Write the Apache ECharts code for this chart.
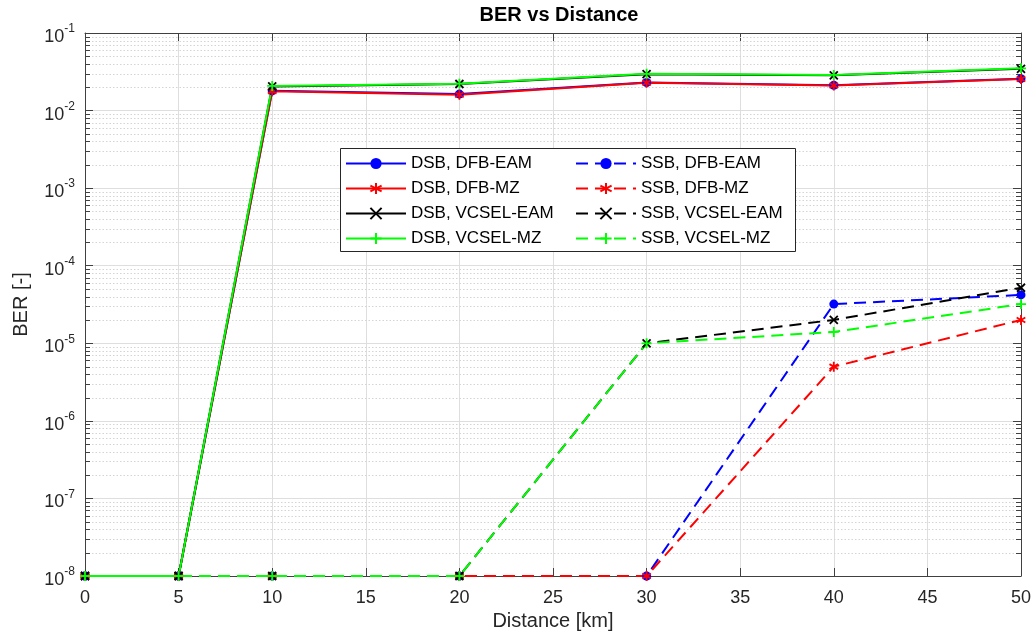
<!DOCTYPE html>
<html>
<head>
<meta charset="utf-8">
<title>BER vs Distance</title>
<script src="https://cdn.jsdelivr.net/npm/echarts@6/dist/echarts.min.js"></script>
<style>
  html, body { margin: 0; padding: 0; background: #fff; }
  #chart { width: 1034px; height: 642px; }
</style>
</head>
<body>
<div id="chart"></div>
<script>
// Transmission distance in km
const distances = [0, 5, 10, 20, 30, 40, 50];

// Measured BER per configuration (1e-8 is the error-free floor)
const dsbDfbEam   = [1e-8, 1e-8, 0.0180, 0.0163, 0.0230, 0.0212, 0.0258];
const dsbDfbMz    = [1e-8, 1e-8, 0.0178, 0.0160, 0.0228, 0.0210, 0.0255];
const dsbVcselEam = [1e-8, 1e-8, 0.0205, 0.0220, 0.0295, 0.0285, 0.0345];
const dsbVcselMz  = [1e-8, 1e-8, 0.0208, 0.0222, 0.0298, 0.0288, 0.0350];
const ssbDfbEam   = [1e-8, 1e-8, 1e-8, 1e-8, 1e-8, 3.2e-5, 4.2e-5];
const ssbDfbMz    = [1e-8, 1e-8, 1e-8, 1e-8, 1e-8, 5.0e-6, 2.0e-5];
const ssbVcselEam = [1e-8, 1e-8, 1e-8, 1e-8, 1e-5, 2.0e-5, 5.2e-5];
const ssbVcselMz  = [1e-8, 1e-8, 1e-8, 1e-8, 1e-5, 1.4e-5, 3.2e-5];

// Axis ranges and log-axis minor steps
const xTicks = [0, 5, 10, 15, 20, 25, 30, 35, 40, 45, 50];
const yDecades = [-8, -7, -6, -5, -4, -3, -2, -1];
const minorSteps = [2, 3, 4, 5, 6, 7, 8, 9];

const FONT = 'Liberation Sans, Arial, Helvetica, sans-serif';
const AXIS_COLOR = '#404040';
const TEXT_COLOR = '#262626';

const minorValues = [];
yDecades.slice(0, -1).forEach(function (d) {
  minorSteps.forEach(function (m) { minorValues.push(m * Math.pow(10, d)); });
});

// Marker shapes drawn as stroked paths
const SYM_STAR = 'path://M5 0L5 10M0.67 2.5L9.33 7.5M0.67 7.5L9.33 2.5';
const SYM_X = 'path://M0 0L10 10M0 10L10 0';
const SYM_PLUS = 'path://M5 0L5 10M0 5L10 5';

function pairs(values) {
  return distances.map(function (x, i) { return [x, values[i]]; });
}

function lineSeries(name, values, color, dashed, symbol, size) {
  const stroked = symbol !== 'circle';
  return {
    name: name,
    type: 'line',
    data: pairs(values),
    xAxisIndex: 0,
    yAxisIndex: 0,
    z: 3,
    symbol: symbol,
    symbolSize: size,
    showAllSymbol: true,
    symbolKeepAspect: true,
    lineStyle: { color: color, width: 2, type: dashed ? [12, 7] : 'solid' },
    itemStyle: stroked
      ? { color: 'rgba(0,0,0,0)', borderColor: color, borderWidth: 1.8 }
      : { color: color, borderColor: color, borderWidth: 0 },
    emphasis: { disabled: true }
  };
}

const chart = echarts.init(document.getElementById('chart'), null, { renderer: 'canvas' });

const seriesList = [
  lineSeries('DSB, DFB-EAM', dsbDfbEam, '#0000ff', false, 'circle', 9),
  lineSeries('DSB, DFB-MZ', dsbDfbMz, '#ff0000', false, SYM_STAR, 10),
  lineSeries('DSB, VCSEL-EAM', dsbVcselEam, '#000000', false, SYM_X, 8),
  lineSeries('DSB, VCSEL-MZ', dsbVcselMz, '#00ff00', false, SYM_PLUS, 10),
  lineSeries('SSB, DFB-EAM', ssbDfbEam, '#0000ff', true, 'circle', 9),
  lineSeries('SSB, DFB-MZ', ssbDfbMz, '#ff0000', true, SYM_STAR, 10),
  lineSeries('SSB, VCSEL-EAM', ssbVcselEam, '#000000', true, SYM_X, 8),
  lineSeries('SSB, VCSEL-MZ', ssbVcselMz, '#00ff00', true, SYM_PLUS, 10)
];

const lineNames = seriesList.map(function (s) { return s.name; });

// Dotted minor grid and minor ticks of the log axis
seriesList.unshift({
  name: 'minorGrid',
  type: 'custom',
  silent: true,
  z: 1,
  clip: false,
  xAxisIndex: 0,
  yAxisIndex: 0,
  data: minorValues.map(function (v) { return [xTicks[0], v]; }),
  encode: { x: 0, y: 1 },
  renderItem: function (params, api) {
    const v = api.value(1);
    const a = api.coord([xTicks[0], v]);
    const b = api.coord([xTicks[xTicks.length - 1], v]);
    const y = Math.round(a[1]) + 0.5;
    const xl = Math.round(a[0]);
    const xr = Math.round(b[0]);
    return {
      type: 'group',
      children: [
        { type: 'line', shape: { x1: xl, y1: y, x2: xr, y2: y },
          style: { stroke: '#d4d4d4', lineWidth: 1, lineDash: [1.5, 2] } },
        { type: 'line', shape: { x1: xl, y1: y, x2: xl + 5, y2: y },
          style: { stroke: AXIS_COLOR, lineWidth: 1 } },
        { type: 'line', shape: { x1: xr - 5, y1: y, x2: xr, y2: y },
          style: { stroke: AXIS_COLOR, lineWidth: 1 } }
      ]
    };
  }
});

const yAxisBase = {
  type: 'log',
  logBase: 10,
  min: Math.pow(10, yDecades[0]),
  max: Math.pow(10, yDecades[yDecades.length - 1]),
  interval: 1,
  axisLine: { show: true, onZero: false, lineStyle: { color: AXIS_COLOR, width: 1 } },
  axisTick: { show: true, inside: true, length: 8, lineStyle: { color: AXIS_COLOR } },
  minorTick: { show: false },
  minorSplitLine: { show: false }
};

// Two legend columns (DSB left, SSB right) inside one framed box
const legendBase = {
  orient: 'vertical',
  top: 155,
  padding: 0,
  itemGap: 8,
  itemWidth: 60,
  itemHeight: 14,
  z: 6,
  textStyle: { fontFamily: FONT, fontSize: 17, color: '#000' }
};

const option = {
  animation: false,
  backgroundColor: '#ffffff',
  title: {
    text: 'BER vs Distance',
    left: 554,
    textAlign: 'center',
    top: 0,
    textStyle: { fontFamily: FONT, fontSize: 20, fontWeight: 'bold', color: '#000' }
  },
  grid: { left: 85, right: 13, top: 33, bottom: 66, containLabel: false },
  graphic: [{
    type: 'rect',
    z: 5,
    silent: true,
    shape: { x: 340.5, y: 148.5, width: 455, height: 103 },
    style: { fill: '#ffffff', stroke: '#262626', lineWidth: 1 }
  }],
  legend: [
    Object.assign({}, legendBase, {
      left: 345,
      data: lineNames.filter(function (n) { return n.indexOf('DSB') === 0; })
    }),
    Object.assign({}, legendBase, {
      left: 575,
      data: lineNames.filter(function (n) { return n.indexOf('SSB') === 0; })
    })
  ],
  xAxis: [
    {
      type: 'value',
      min: xTicks[0],
      max: xTicks[xTicks.length - 1],
      interval: 5,
      name: 'Distance [km]',
      nameLocation: 'middle',
      nameGap: 35,
      nameTextStyle: { fontFamily: FONT, fontSize: 20, color: TEXT_COLOR },
      axisLine: { show: true, onZero: false, lineStyle: { color: AXIS_COLOR, width: 1 } },
      axisTick: { show: true, inside: true, length: 8, lineStyle: { color: AXIS_COLOR } },
      axisLabel: { fontFamily: FONT, fontSize: 18, color: TEXT_COLOR, margin: 13 },
      splitLine: { show: true, lineStyle: { color: '#dedede', width: 1 } }
    },
    {
      type: 'value',
      position: 'top',
      min: xTicks[0],
      max: xTicks[xTicks.length - 1],
      interval: 5,
      axisLine: { show: true, onZero: false, lineStyle: { color: AXIS_COLOR, width: 1 } },
      axisTick: { show: true, inside: true, length: 8, lineStyle: { color: AXIS_COLOR } },
      axisLabel: { show: false },
      splitLine: { show: false }
    }
  ],
  yAxis: [
    Object.assign({}, yAxisBase, {
      position: 'left',
      name: 'BER [-]',
      nameLocation: 'middle',
      nameGap: 54,
      nameRotate: 90,
      nameTextStyle: { fontFamily: FONT, fontSize: 20, color: TEXT_COLOR },
      axisLabel: {
        margin: 10,
        formatter: function (v) {
          return '{b|10}{e|' + Math.round(Math.log10(v)) + '}';
        },
        rich: {
          b: { fontFamily: FONT, fontSize: 18, color: TEXT_COLOR, padding: [8, 0, 0, 0] },
          e: { fontFamily: FONT, fontSize: 12, color: TEXT_COLOR, padding: [0, 0, 8, 0] }
        }
      },
      splitLine: { show: true, lineStyle: { color: '#dedede', width: 1 } }
    }),
    Object.assign({}, yAxisBase, {
      position: 'right',
      axisLabel: { show: false },
      splitLine: { show: false }
    })
  ],
  series: seriesList
};

chart.setOption(option);
</script>
</body>
</html>
